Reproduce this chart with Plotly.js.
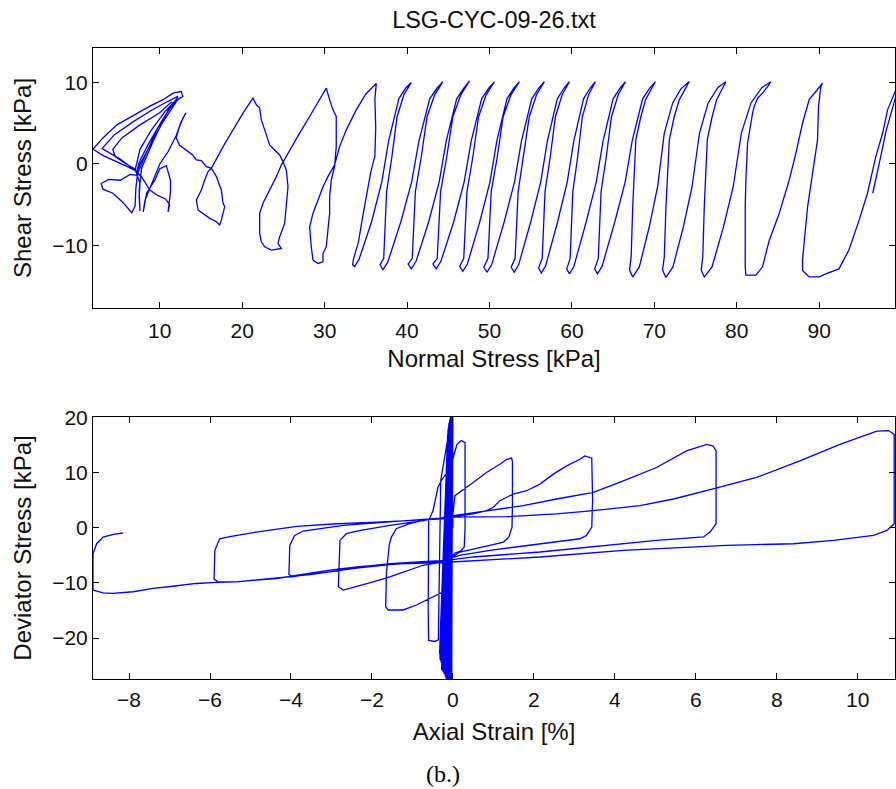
<!DOCTYPE html>
<html>
<head>
<meta charset="utf-8">
<script src="https://cdn.plot.ly/plotly-3.0.1.min.js"></script>
<style>
html,body{margin:0;padding:0;background:#fff;}
#chart{width:896px;height:789px;}
</style>
</head>
<body>
<div id="chart"></div>
<script>
// ---------- Top panel: stress path (Normal Stress [kPa], Shear Stress [kPa]) ----------
const pathStart = [
 [7.4,-1.4],[6.4,-1.3],[5.2,-2.0],[3.8,-1.9],[2.9,-2.4],[3.1,-3.1],[4.3,-3.6],[5.5,-4.7],[6.6,-6.0],[7.0,-5.2],
 [7.1,-3.0],[7.3,-1.2],[8.3,1.2],[9.8,4.5],[11.3,7.0],[12.0,7.6],[11.7,7.2],[10.3,5.0],[8.8,2.2],[7.6,0.0],
 [7.2,-1.0],[7.5,0.2],[8.6,2.4],[10.2,5.2],[11.6,7.4],[11.4,7.6],[10.0,6.3],[7.6,4.8],[5.4,3.2],[4.3,1.8],
 [4.6,0.9],[5.9,0.0],[7.0,-0.6],[7.6,-2.4],[7.5,-4.0],[7.6,-5.8],[7.5,-3.3],[7.8,-0.5],[9.2,2.8],[11.0,6.6],
 [12.3,8.0],[12.8,8.3],[12.6,8.9],[11.6,8.7],[10.4,7.9],[8.8,7.1],[6.8,6.0],[4.8,4.8],[3.1,3.2],[1.9,1.8],
 [3.2,1.0],[4.6,0.4],[6.0,-0.3],[7.0,-0.8],[5.2,0.6],[3.0,1.9],[4.5,3.6],[6.8,5.2],[9.0,6.6],[11.0,7.7],
 [12.2,8.3],[12.0,7.9],[10.6,6.4],[9.0,4.2],[7.6,1.8],[7.0,-0.8],
 [7.8,-1.6],[8.8,-3.2],[9.8,-3.9],[10.7,-4.3],[11.2,-5.0],[11.0,-5.9],
 [11.3,-3.5],[11.3,-2.0],[10.8,-0.2],[10.0,-0.6],[9.4,-2.0],[8.4,-3.6],[8.0,-5.9],[8.2,-4.5],[9.0,-2.5],[10.0,0.0],
 [11.0,1.5],[12.0,3.5],[12.6,5.2],[13.2,6.3],[12.8,5.6],[12.3,4.3],[12.0,3.2],[12.4,2.3],[13.2,1.7],[14.0,1.1]
];
const pathEarlyCycles = [
 [14.44,0.49],[15.05,0.41],[15.66,-0.33],[16.26,-0.53],[16.87,-1.56],[17.47,-3.2],[17.68,-4.84],[17.88,-5.25],
 [17.47,-6.9],[17.27,-7.51],[16.87,-7.1],[16.06,-6.69],[15.25,-6.08],[14.65,-5.67],[14.44,-4.43],[15.05,-3.2],
 [15.45,-1.97],[15.86,-0.94],[16.26,-0.53],[16.87,0.7],[17.68,2.13],[18.89,4.19],[20.1,6.24],[21.31,8.09],
 [21.72,7.27],[22.12,6.86],[22.32,5.42],[22.73,4.19],[23.13,2.96],[23.33,2.34],[23.94,1.72],[24.55,1.11],
 [24.95,0.29],[25.35,-0.74],[25.56,-2.79],[25.35,-5.25],[25.15,-7.31],[24.55,-8.95],[24.34,-9.77],[24.75,-10.39],
 [23.54,-10.59],[22.73,-10.18],[22.32,-9.56],[22.12,-8.54],[22.12,-6.08],[22.52,-4.84],[22.93,-4.02],[23.54,-2.79],
 [24.14,-1.56],[24.75,-0.12],[25.76,1.72],[26.97,3.78],[28.18,5.83],[29.8,8.7],[30.2,9.32],[30.61,7.88],
 [31.01,6.65],[31.41,5.83],[31.41,2.13],[31.21,-0.33],[30.81,-1.97],[30.61,-4.02],[30.61,-6.08],[30.4,-8.13],
 [30.2,-10.18],[29.8,-11.0],[29.8,-12.03],[29.19,-12.23],[28.59,-11.82],[28.38,-10.18],[28.18,-7.72],[28.59,-6.08],
 [29.19,-4.43],[29.8,-2.79],[30.4,-1.56],[31.21,-0.12],[31.82,2.13],[32.63,4.19],[33.84,6.65],[35.0,8.6],
 [36.27,9.9],[36.1,8.0],[36.2,4.5],[36.1,1.0],[35.6,-1.0],[35.1,-3.6],[34.6,-6.6],[34.1,-9.6],[33.5,-11.7],
 [33.4,-12.4],[33.64,-12.6]
];
const pathMidCycles = [
 [34.19,-11.7],[35.70,-7.1],[36.94,-2.2],[37.76,2.8],[39.00,8.0],[39.82,9.3],[40.51,10.0],
 [39.62,8.5],[38.79,5.8],[38.14,0.7],[37.52,-3.4],[37.17,-11.6],[36.73,-12.4],[37.07,-13.0],
 [37.65,-12.1],[39.25,-7.1],[40.56,-2.2],[41.44,2.8],[42.75,8.0],[43.62,9.3],[44.35,10.1],
 [43.35,8.5],[42.43,5.8],[41.70,0.7],[41.01,-3.4],[40.63,-11.6],[40.13,-12.3],[40.51,-12.9],
 [41.08,-12.0],[42.63,-7.1],[43.90,-2.2],[44.75,2.8],[46.02,8.0],[46.87,9.3],[47.58,10.2],
 [46.53,8.5],[45.56,5.8],[44.79,0.7],[44.07,-3.4],[43.66,-11.6],[43.14,-12.3],[43.54,-12.9],
 [44.10,-12.0],[45.66,-7.1],[46.93,-2.2],[47.78,2.8],[49.05,8.0],[49.89,9.3],[50.6,10.1],
 [49.60,8.5],[48.68,5.8],[47.96,0.7],[47.27,-3.4],[46.88,-11.6],[46.39,-12.6],[46.77,-13.2],
 [47.32,-12.3],[48.83,-7.1],[50.06,-2.2],[50.89,2.8],[52.12,8.0],[52.94,9.3],[53.63,10.1],
 [52.61,8.5],[51.66,5.8],[50.92,0.7],[50.21,-3.4],[49.82,-11.6],[49.31,-12.7],[49.7,-13.3],
 [50.26,-12.4],[51.79,-7.1],[53.04,-2.2],[53.88,2.8],[55.13,8.0],[55.96,9.3],[56.66,10.1],
 [55.71,8.5],[54.83,5.8],[54.13,0.7],[53.48,-3.4],[53.11,-11.6],[52.63,-12.7],[53.0,-13.3],
 [53.54,-12.4],[55.01,-7.1],[56.22,-2.2],[57.02,2.8],[58.23,8.0],[59.03,9.3],[59.7,10.1],
 [58.82,8.5],[58.0,5.8],[57.35,0.7],[56.74,-3.4],[56.4,-11.6],[55.96,-12.8],[56.3,-13.4],
 [56.82,-12.5],[58.27,-7.1],[59.44,-2.2],[60.23,2.8],[61.41,8.0],[62.2,9.3],[62.85,10.1],
 [62.03,8.5],[61.27,5.8],[60.68,0.7],[60.11,-3.4],[59.79,-11.6],[59.38,-12.9],[59.7,-13.5],
 [60.24,-12.6],[61.74,-7.1],[62.96,-2.2],[63.78,2.8],[65.0,8.0],[65.82,9.3],[66.5,10.1],
 [65.62,8.5],[64.8,5.8],[64.15,0.7],[63.54,-3.4],[63.2,-11.6],[62.76,-12.9],[63.1,-13.5]
];
const pathLateCycles = [
 [63.66,-12.6],[65.21,-7.1],[66.47,-2.2],[67.31,2.8],[68.58,8.0],[69.42,9.3],[70.12,10.1],
 [68.94,7.9],[68.37,5.8],[67.76,3.0],[67.38,-5.25],[67.19,-11.4],[67.0,-13.05],[67.38,-13.9],
 [68.18,-12.65],[69.39,-7.72],[70.4,-2.79],[71.21,3.78],[72.22,7.47],[73.2,9.2],[74.24,10.14],
 [73.03,7.88],[72.42,5.83],[71.82,2.96],[71.41,-5.25],[71.21,-11.41],[71.0,-13.05],[71.41,-13.95],
 [72.26,-12.65],[73.53,-7.7],[74.58,-2.8],[75.48,3.8],[76.53,7.5],[77.72,9.4],[78.69,10.1],
 [77.56,7.9],[77.01,5.8],[76.43,3.0],[76.06,-5.25],[75.88,-11.4],[75.69,-13.05],[76.06,-13.9],
 [77.0,-12.65],[78.4,-7.7],[79.57,-2.8],[80.56,3.8],[81.73,7.5],[83.06,9.4],[84.14,10.1],
 [83.74,9.5],[83.13,8.7],[82.53,8.08],[82.12,7.06],[81.92,6.24],[81.52,3.78],[81.31,2.55],[81.11,-1.97],
 [81.03,-5.25],[81.03,-12.64],[81.11,-13.67],[82.33,-13.67],[83.13,-12.64],
 [83.94,-9.4],[85.15,-6.1],[86.36,-2.0],[87.17,1.3],[87.98,5.0],[88.79,7.9],[89.6,8.9],[90.4,9.93],
 [90.2,9.5],[89.92,7.06],[89.8,2.96],[89.2,-1.15],[88.6,-5.25],[88.2,-9.4],[87.98,-11.8],[87.98,-13.1],[88.79,-13.88],
 [90.0,-13.88],[90.8,-13.5],[92.4,-12.9],[93.6,-10.6],[94.85,-6.9],[95.86,-3.6],[96.87,0.9],[97.7,3.8],
 [98.3,6.65],[99.1,8.7],[99.5,9.6],
 [99.3,8.3],[98.6,5.8],[98.1,4.0],[97.7,2.0],[97.1,-0.7],[96.5,-3.6]
];
const normalTicks = [10,20,30,40,50,60,70,80,90];
const shearTicks = [-10,0,10];

// ---------- Bottom panel: Axial Strain [%] vs Deviator Stress [kPa] ----------
const spikeTopX = [-0.04,-0.07,-0.01,-0.1,-0.05,-0.02,-0.08,-0.12,-0.06,0.0,-0.09,-0.03,-0.07,-0.11,-0.04,-0.01,-0.08,-0.05,-0.13,-0.06,-0.02,-0.1,-0.04,-0.07,-0.09,-0.03,-0.06,-0.11,-0.05,-0.08];
const spikeTopY = [20.3,19.8,20.4,18.9,20.1,20.5,19.5,17.8,20.2,20.4,19.0,20.3,19.7,18.2,20.4,20.5,19.3,20.1,16.8,19.9,20.5,18.6,20.2,19.6,19.1,20.4,19.8,17.5,20.0,19.4];
const spikeBotX = [-0.14,-0.22,-0.06,-0.27,-0.17,-0.09,-0.24,-0.32,-0.12,-0.04,-0.2,-0.08,-0.16,-0.29,-0.11,-0.03,-0.23,-0.13,-0.33,-0.18,-0.05,-0.26,-0.15,-0.21,-0.28,-0.07,-0.19,-0.31,-0.12,-0.25];
const spikeBotY = [-27.8,-26.5,-27.9,-25.2,-27.3,-27.8,-26.0,-23.8,-27.5,-27.9,-25.6,-27.7,-26.8,-24.5,-27.6,-27.9,-26.2,-27.4,-22.9,-27.0,-27.9,-25.0,-27.5,-26.4,-25.8,-27.8,-26.9,-24.1,-27.3,-26.1];
const loopPath = [
 [-0.05,19.4],[-0.3,8.6],[-0.34,-10.0],[-0.36,-20.3],[-0.45,-20.6],[-0.6,-20.4],[-0.61,-15.0],[-0.61,-2.0],[-0.6,1.3],
 [-0.49,3.1],[-0.37,7.3],[-0.28,8.6],[-0.1,10.5],[0.0,12.5],[0.1,15.1],[0.21,15.8],[0.3,15.4],[0.3,8.0],[0.3,0.0],
 [0.28,-3.5],[0.2,-4.2],[0.05,-4.6],[-0.1,-6.0],[-0.24,-11.6],[-0.57,-12.8],[-0.9,-14.0],[-1.23,-14.9],[-1.6,-14.9],
 [-1.66,-14.3],[-1.64,-8.0],[-1.57,-3.0],[-1.52,-1.7],[-1.4,-0.18],[-1.07,0.72],[-0.74,1.32],[-0.3,1.7],[0.0,2.5],
 [0.03,4.5],[0.05,5.8],[0.5,8.2],[0.83,10.0],[1.16,11.5],[1.33,12.4],[1.45,12.6],[1.47,12.0],[1.47,4.0],[1.46,0.1],
 [1.38,-1.7],[1.25,-2.6],[0.91,-3.2],[0.5,-3.8],[0.17,-4.4],[-0.05,-5.5],[-0.24,-6.2],[-0.74,-6.8],[-1.07,-7.7],
 [-1.56,-8.9],[-1.97,-9.8],[-2.38,-10.7],[-2.71,-11.3],[-2.83,-10.7],[-2.81,-5.0],[-2.79,-2.3],[-2.63,-1.08],[-2.38,-0.6],
 [-1.56,0.42],[-0.74,1.32],[-0.24,1.8],[0.01,2.0],[0.5,2.5],[0.83,3.1],[1.0,3.7],[1.16,4.9],[1.49,6.1],[1.82,6.7],
 [2.15,7.9],[2.48,9.7],[2.81,11.2],[3.14,12.4],[3.26,13.0],[3.43,12.6],[3.45,5.0],[3.43,0.12],[3.3,-1.4],[3.14,-2.0],
 [2.15,-2.9],[0.91,-4.1],[0.17,-5.0],[-0.24,-5.9],[-1.56,-6.5],[-2.38,-7.1],[-3.04,-7.7],[-3.53,-8.3],[-3.95,-8.9],
 [-4.05,-8.5],[-4.03,-3.2],[-3.91,-1.4],[-3.7,-0.6],[-2.71,0.42],[-1.56,1.0],[-0.24,1.8],[0.01,2.2],[0.91,3.1],
 [1.74,4.0],[2.56,5.2],[3.47,6.4],[4.21,8.5],[5.03,10.9],[5.77,13.9],[6.27,15.1],[6.43,14.8],[6.5,13.9],[6.5,5.0],
 [6.5,0.72],[6.35,-0.78],[6.19,-1.68],[5.03,-2.3],[3.8,-3.2],[2.15,-4.4],[0.5,-5.3],[0.01,-5.7],[-0.24,-6.0],
 [-1.56,-6.7],[-2.38,-7.3],[-3.53,-8.5],[-4.36,-9.1],[-4.86,-9.5],[-5.35,-9.8],[-5.8,-9.8],[-5.9,-9.3],[-5.88,-4.1],
 [-5.76,-2.0],[-5.51,-1.6],[-4.86,-0.8],[-3.86,0.24],[-2.87,0.72],[-1.89,1.0],[-1.07,1.3],[-0.24,1.6],[0.01,1.9],
 [1.33,2.0],[2.56,2.5],[3.47,3.1],[4.62,4.0],[5.45,5.2],[6.52,7.2],[7.5,9.1],[8.57,12.1],[9.56,15.1],[10.47,17.5],
 [10.76,17.6],[10.9,16.9],[10.91,5.0],[10.9,0.7],[10.72,-0.5],[10.39,-1.4],[9.4,-2.3],[8.41,-2.9],[6.76,-3.2],
 [5.45,-3.6],[4.21,-4.1],[2.15,-5.3],[0.5,-6.0],[0.01,-6.2],[-0.24,-6.3],[-1.56,-6.6],[-2.38,-7.1],[-3.04,-7.7],
 [-3.53,-8.3],[-4.36,-9.2],[-4.86,-9.5],[-5.35,-9.8],[-5.85,-9.9],[-6.34,-10.1],[-6.92,-10.6],[-7.41,-11.0],
 [-7.9,-11.6],[-8.4,-11.9],[-8.64,-11.8],[-8.89,-11.3],[-8.89,-4.7],[-8.8,-2.9],[-8.64,-1.7],[-8.39,-1.2],[-8.15,-0.96]
];
const strainTicks = [-8,-6,-4,-2,0,2,4,6,8,10];
const devTicks = [-20,-10,0,10,20];

// ---------- build traces ----------
const topPts = pathStart.concat(pathEarlyCycles, pathMidCycles, pathLateCycles);
const spikeX = [0], spikeY = [0];
for (let i = 0; i < spikeTopX.length; i++) {
  spikeX.push(spikeTopX[i], spikeBotX[i]);
  spikeY.push(spikeTopY[i], spikeBotY[i]);
}
const botX = spikeX.concat(loopPath.map(p => p[0]));
const botY = spikeY.concat(loopPath.map(p => p[1]));

const lineStyle = {color: 'rgb(0,0,255)', width: 1.3};
const traces = [
  {x: topPts.map(p => p[0]), y: topPts.map(p => p[1]), xaxis: 'x', yaxis: 'y',
   type: 'scatter', mode: 'lines', line: lineStyle, hoverinfo: 'skip'},
  {x: botX, y: botY, xaxis: 'x2', yaxis: 'y2',
   type: 'scatter', mode: 'lines', line: lineStyle, hoverinfo: 'skip'}
];

const FONT = 'Liberation Sans, Arial, Helvetica, sans-serif';
const TITLE_FONT = {family: FONT, size: 24, color: '#111'};
const axisBase = {
  showline: true, linecolor: '#000', linewidth: 1, mirror: 'ticks',
  ticks: 'inside', ticklen: 6, tickwidth: 1, tickcolor: '#000',
  showgrid: false, zeroline: false, automargin: false,
  tickfont: {family: FONT, size: 21, color: '#111'}
};
const layout = {
  width: 896, height: 789,
  margin: {l: 93, r: 1, t: 48, b: 110},
  paper_bgcolor: '#fff', plot_bgcolor: '#fff',
  showlegend: false,
  title: {text: 'LSG-CYC-09-26.txt', font: {family: FONT, size: 23.5, color: '#111'},
          x: 0.5, xref: 'paper', xanchor: 'center', y: 0.975, yref: 'container', yanchor: 'middle'},
  xaxis: Object.assign({}, axisBase, {
    domain: [0, 1], anchor: 'y', range: [1.9, 99.2], tickvals: normalTicks, ticklabelstandoff: 4,
    title: {text: 'Normal Stress [kPa]', font: TITLE_FONT, standoff: 9}
  }),
  yaxis: Object.assign({}, axisBase, {
    domain: [0.588, 1], anchor: 'x', range: [-17.7, 14.25], tickvals: shearTicks,
    title: {text: 'Shear Stress [kPa]', font: TITLE_FONT, standoff: 13}
  }),
  xaxis2: Object.assign({}, axisBase, {
    domain: [0, 1], anchor: 'y2', range: [-8.89, 10.92], tickvals: strainTicks, ticklabelstandoff: 2,
    title: {text: 'Axial Strain [%]', font: TITLE_FONT, standoff: 12}
  }),
  yaxis2: Object.assign({}, axisBase, {
    domain: [0, 0.4152], anchor: 'x2', range: [-27.4, 20.05], tickvals: devTicks,
    title: {text: 'Deviator Stress [kPa]', font: TITLE_FONT, standoff: 13}
  }),
  annotations: [{
    text: '(b.)', xref: 'paper', yref: 'paper', x: 0.436, y: -0.1506,
    xanchor: 'center', yanchor: 'middle', showarrow: false,
    font: {family: 'Liberation Serif, Times New Roman, serif', size: 24, color: '#000'}
  }]
};
Plotly.newPlot('chart', traces, layout, {staticPlot: true, displayModeBar: false});
</script>
</body>
</html>
